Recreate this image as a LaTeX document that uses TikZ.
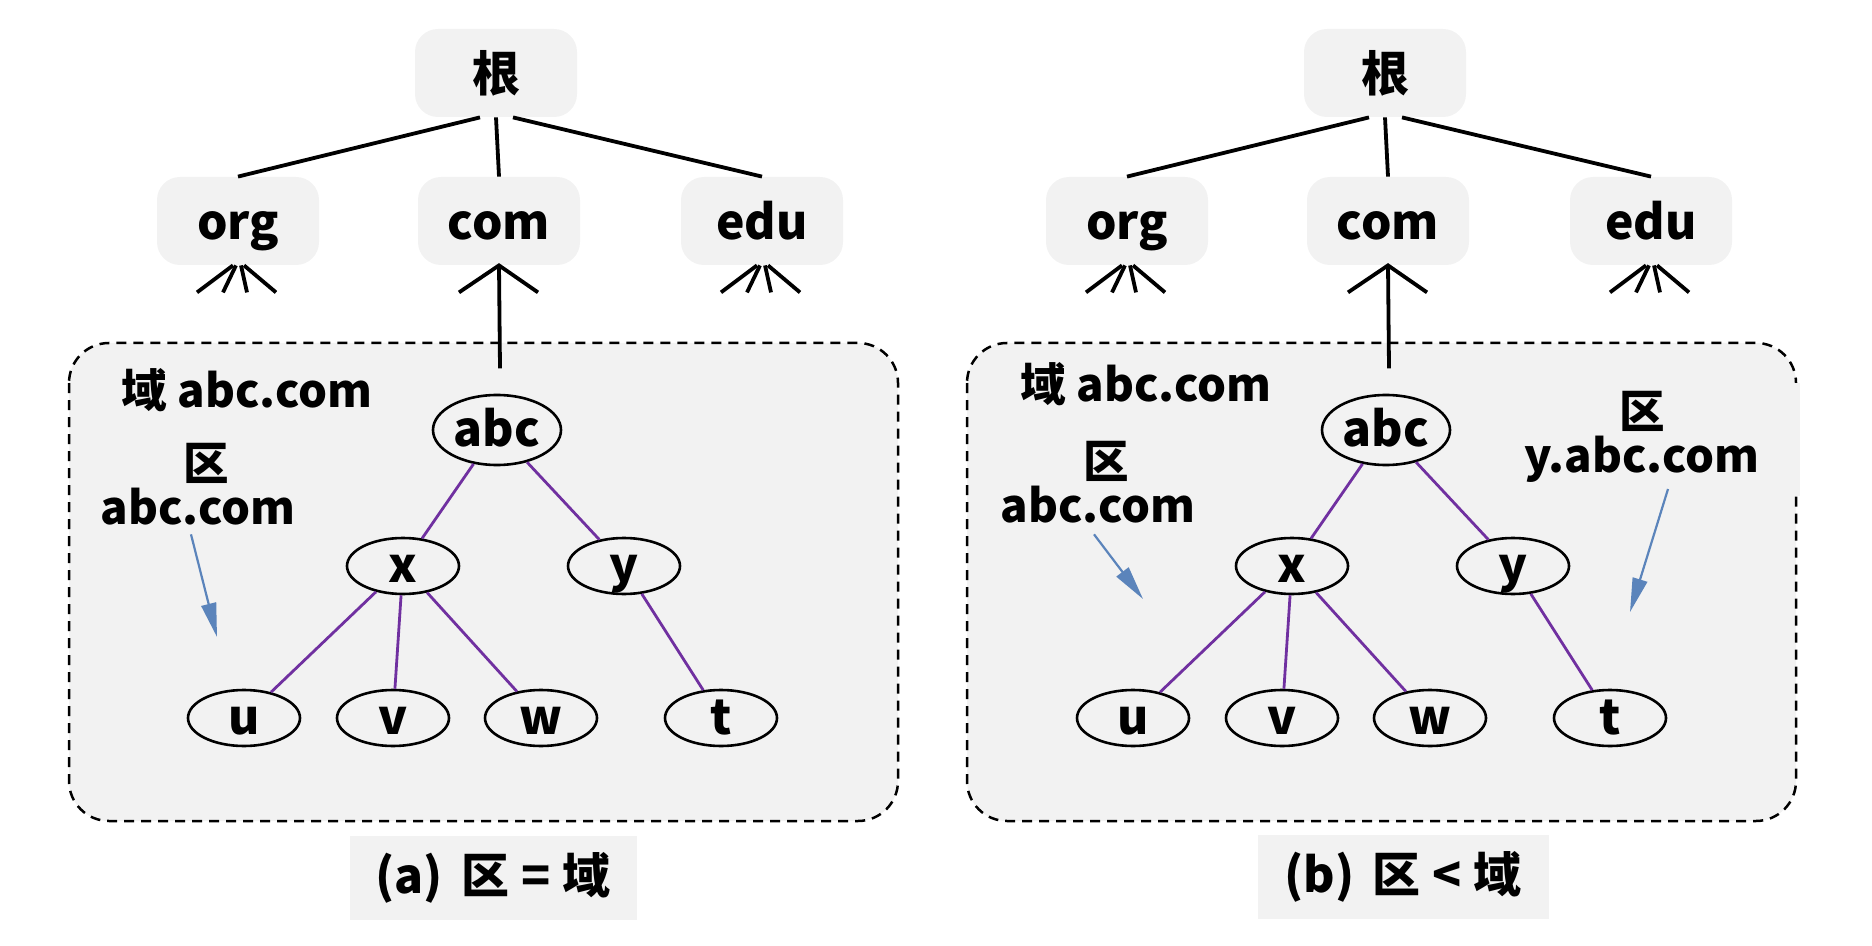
\documentclass[tikz,border=0pt]{standalone}
\usepackage{fontspec}
\setmainfont{Noto Sans CJK SC}
\usepackage{tikz}
\usetikzlibrary{positioning,calc,arrows.meta,shapes.geometric}
\definecolor{panelgray}{HTML}{F2F2F2}
\definecolor{treepurple}{HTML}{7030A0}
\definecolor{noteblue}{HTML}{5B84BB}

\begin{document}
\begin{tikzpicture}[
    x=0.5pt, y=-0.5pt,
    every node/.style={font=\bfseries\fontsize{24}{20}\selectfont},
    topbox/.style={fill=panelgray, rounded corners=11.5pt, minimum width=81pt, minimum height=44pt, inner sep=0pt, text height=22pt, text depth=3pt},
    host/.style={ellipse, draw, line width=1.3pt, minimum width=56pt, minimum height=28pt, inner sep=0pt, text height=17pt, text depth=1pt},
    tline/.style={line width=1.9pt},
    link/.style={treepurple, line width=1.4pt},
    zone/.style={draw, dash pattern=on 5pt off 3.5pt, line width=1.25pt, fill=panelgray, rounded corners=20pt},
    note/.style={align=center, inner sep=0pt, font=\bfseries\fontsize{22.8}{22}\selectfont},
    pointer/.style={noteblue, line width=1.1pt, -{Triangle[length=17pt, width=7.5pt]}},
    capbox/.style={fill=panelgray, minimum height=42pt, inner sep=0pt},
]
\useasboundingbox (0,0) rectangle (1872,946);
\draw[zone] (69,343) rectangle (898,821);
\draw[zone] (967,343) rectangle (1796,821);
\fill[panelgray] (1790,383) rectangle (1800,496);
\foreach \p/\dx in {a/0, b/889} {
  \begin{scope}[shift={(\dx,0)}]
  \node[topbox] (\p-root) at (496,73) {根};
  \node[topbox] (\p-org) at (238,221) {org};
  \node[topbox] (\p-com) at (499,221) {com};
  \node[topbox] (\p-edu) at (762,221) {edu};
  \node[host, minimum width=64pt, minimum height=35pt] (\p-abc) at (497,430) {abc};
  \node[host] (\p-x) at (403,566) {x};
  \node[host] (\p-y) at (624,566) {y};
  \node[host] (\p-u) at (244,718) {u};
  \node[host] (\p-v) at (393,718) {v};
  \node[host] (\p-w) at (541,718) {w};
  \node[host] (\p-t) at (721,718) {t};
  \draw[tline] ([xshift=-8pt]\p-root.south) -- (\p-org.north);
  \draw[tline] (\p-root.south) -- (\p-com.north);
  \draw[tline] ([xshift=8.5pt]\p-root.south) -- (\p-edu.north);
  \foreach \n in {org, edu}
    \foreach \a/\b in {-5/-41, -2/-15, 3/9, 6/38}
      \draw[tline] ($(\p-\n.south)+(\a,0)$) -- ($(\p-\n.south)+(\b,27)$);
  \draw[tline] ($(\p-com.south)+(-40,27)$) -- (\p-com.south) -- ($(\p-com.south)+(39,27)$);
  \draw[tline] (\p-com.south) -- ($(\p-com.south)+(1,103)$);
  \draw[link] (\p-abc) -- (\p-x);
  \draw[link] (\p-abc) -- (\p-y);
  \draw[link] (\p-x) -- (\p-u);
  \draw[link] (\p-x) -- (\p-v);
  \draw[link] (\p-x) -- (\p-w);
  \draw[link] (\p-y) -- (\p-t);
  \end{scope}
}
\node[note] (a-dom) at (247,390) {域 abc.com};
\node[note] (a-zone) at (198,484) {\hspace*{8pt}区\\abc.com};
\coordinate (a-zend) at (217,637);
\draw[pointer] ($(a-zone.south)+(-7,9)$) -- (a-zend);
\node[note] (b-dom) at (1146,384) {域 abc.com};
\node[note] (b-zone) at (1098,482) {\hspace*{8pt}区\\abc.com};
\coordinate (b-zend) at (1143,599);
\draw[pointer] ($(b-zone.south)+(-4,11)$) -- (b-zend);
\node[note] (b-yzone) at (1642,437) {区\\y.abc.com};
\coordinate (b-yend) at (1630,612);
\draw[pointer] ($(b-yzone.south)+(26,6)$) -- (b-yend);
\node[capbox, minimum width=143.5pt] (a-cap) at (493,878) {(a)\hspace{9pt}区\hspace{6pt}=\hspace{6pt}域};
\node[capbox, minimum width=145.5pt] (b-cap) at (1403,877) {(b)\hspace{9pt}区\hspace{6pt}<\hspace{6pt}域};
\end{tikzpicture}
\end{document}
